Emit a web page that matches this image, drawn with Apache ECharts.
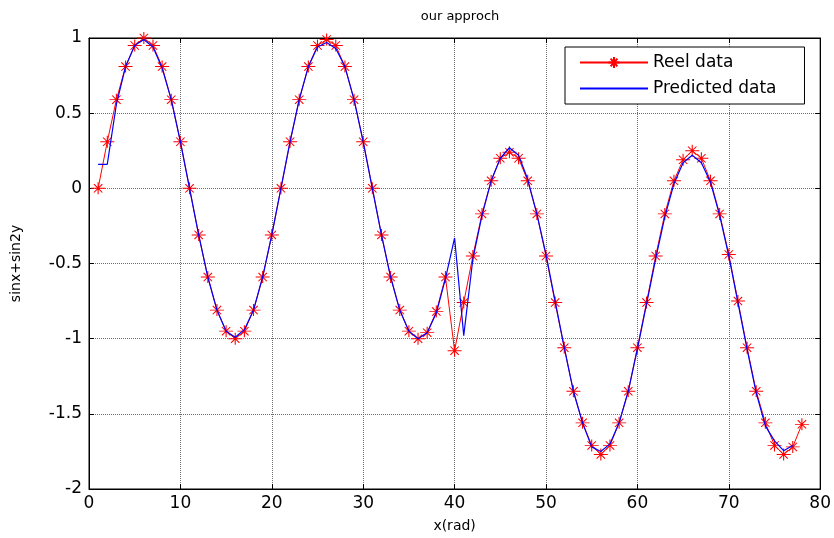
<!DOCTYPE html>
<html>
<head>
<meta charset="utf-8">
<script src="https://cdn.jsdelivr.net/npm/echarts@6/dist/echarts.min.js"></script>
<style>html,body{margin:0;padding:0;background:#fff}#c{width:834px;height:538px}</style>
</head>
<body>
<div id="c"></div>
<script>
const xValues = [1,2,3,4,5,6,7,8,9,10,11,12,13,14,15,16,17,18,19,20,21,22,23,24,25,26,27,28,29,30,31,32,33,34,35,36,37,38,39,40,41,42,43,44,45,46,47,48,49,50,51,52,53,54,55,56,57,58,59,60,61,62,63,64,65,66,67,68,69,70,71,72,73,74,75,76,77,78];
const reelData = [0,0.31,0.59,0.81,0.95,1.0,0.95,0.81,0.59,0.31,0,-0.31,-0.59,-0.81,-0.95,-1.0,-0.95,-0.81,-0.59,-0.31,0,0.31,0.59,0.81,0.95,0.99,0.95,0.81,0.59,0.31,0,-0.31,-0.59,-0.81,-0.95,-1.0,-0.96,-0.82,-0.59,-1.08,-0.76,-0.45,-0.17,0.05,0.2,0.24,0.2,0.05,-0.17,-0.45,-0.76,-1.06,-1.35,-1.56,-1.71,-1.77,-1.71,-1.56,-1.35,-1.06,-0.76,-0.45,-0.17,0.05,0.19,0.25,0.2,0.05,-0.17,-0.44,-0.75,-1.06,-1.35,-1.56,-1.71,-1.77,-1.72,-1.57];
const predData = [0.16,0.16,0.56,0.81,0.95,0.99,0.94,0.80,0.59,0.31,0,-0.31,-0.59,-0.81,-0.95,-0.99,-0.94,-0.81,-0.59,-0.31,0,0.31,0.59,0.81,0.94,0.97,0.93,0.81,0.59,0.31,0,-0.31,-0.59,-0.81,-0.95,-1.0,-0.96,-0.83,-0.6,-0.33,-0.98,-0.47,-0.18,0.05,0.2,0.27,0.22,0.06,-0.17,-0.44,-0.75,-1.06,-1.35,-1.56,-1.72,-1.75,-1.70,-1.56,-1.35,-1.07,-0.77,-0.47,-0.19,0.03,0.17,0.22,0.17,0.04,-0.18,-0.45,-0.76,-1.07,-1.36,-1.58,-1.68,-1.745,-1.71];
const seriesNames = ['Reel data','Predicted data'];

const FONT = 'DejaVu Sans';
const chart = echarts.init(document.getElementById('c'), null, {renderer:'canvas'});
const star = 'path://M0,-6L0,6M-7,0L7,0M-4.2,-4.2L4.2,4.2M-4.2,4.2L4.2,-4.2';
const reelPts = reelData.map((v,i)=>[xValues[i],v]);
const predPts = predData.map((v,i)=>[xValues[i],v]);
const gridLine = {show:true, lineStyle:{color:'#6e6e6e', width:1, type:[1,1]}};
const tickIn = {show:true, inside:true, length:5, lineStyle:{color:'#000'}};
chart.setOption({
  animation:false,
  backgroundColor:'#fff',
  title:{text:'our approch', left:455, top:5, textAlign:'center',
    textStyle:{fontFamily:FONT, fontSize:13, fontWeight:'normal', color:'#000'}},
  grid:{left:89, right:13, top:38, bottom:47, show:true, borderColor:'#000', borderWidth:1, backgroundColor:'#fff'},
  legend:{orient:'vertical', left:565, top:47, itemWidth:68, itemHeight:14, itemGap:9,
    padding:[7,28,7,14], borderColor:'#000', borderWidth:1, backgroundColor:'#fff',
    textStyle:{fontFamily:FONT, fontSize:17, color:'#000'},
    data:[{name:seriesNames[0]},{name:seriesNames[1], itemStyle:{opacity:0}}]},
  xAxis:[{type:'value', min:0, max:80, interval:10, position:'bottom',
    name:'x(rad)', nameLocation:'middle', nameGap:30,
    nameTextStyle:{fontFamily:FONT, fontSize:14, color:'#000'},
    axisLine:{show:true, onZero:false, lineStyle:{color:'#000'}}, axisTick:tickIn,
    axisLabel:{fontFamily:FONT, fontSize:17, color:'#000', margin:6},
    splitLine:gridLine},
   {type:'value', min:0, max:80, interval:10, position:'top',
    axisLine:{show:true, onZero:false, lineStyle:{color:'#000'}}, axisTick:tickIn,
    axisLabel:{show:false}, splitLine:{show:false}}],
  yAxis:[{type:'value', min:-2, max:1, interval:0.5, position:'left',
    name:'sinx+sin2y', nameLocation:'middle', nameGap:66, nameRotate:90,
    nameTextStyle:{fontFamily:FONT, fontSize:14, color:'#000'},
    axisLine:{show:true, onZero:false, lineStyle:{color:'#000'}}, axisTick:tickIn,
    axisLabel:{fontFamily:FONT, fontSize:17, color:'#000', margin:7},
    splitLine:gridLine},
   {type:'value', min:-2, max:1, interval:0.5, position:'right',
    axisLine:{show:true, onZero:false, lineStyle:{color:'#000'}}, axisTick:tickIn,
    axisLabel:{show:false}, splitLine:{show:false}}],
  series:[
    {name:seriesNames[0], type:'line', data:reelPts, symbol:star, symbolSize:[14,12], showSymbol:true,
      lineStyle:{color:'#ff0000', width:1}, itemStyle:{color:'rgba(0,0,0,0)', borderColor:'#ff0000', borderWidth:1},
      emphasis:{disabled:true}, z:2},
    {name:seriesNames[1], type:'line', data:predPts, symbol:'none', showSymbol:false,
      lineStyle:{color:'#0000ff', width:1.2}, itemStyle:{color:'#0000ff'},
      emphasis:{disabled:true}, z:3}
  ]
});
</script>
</body>
</html>
